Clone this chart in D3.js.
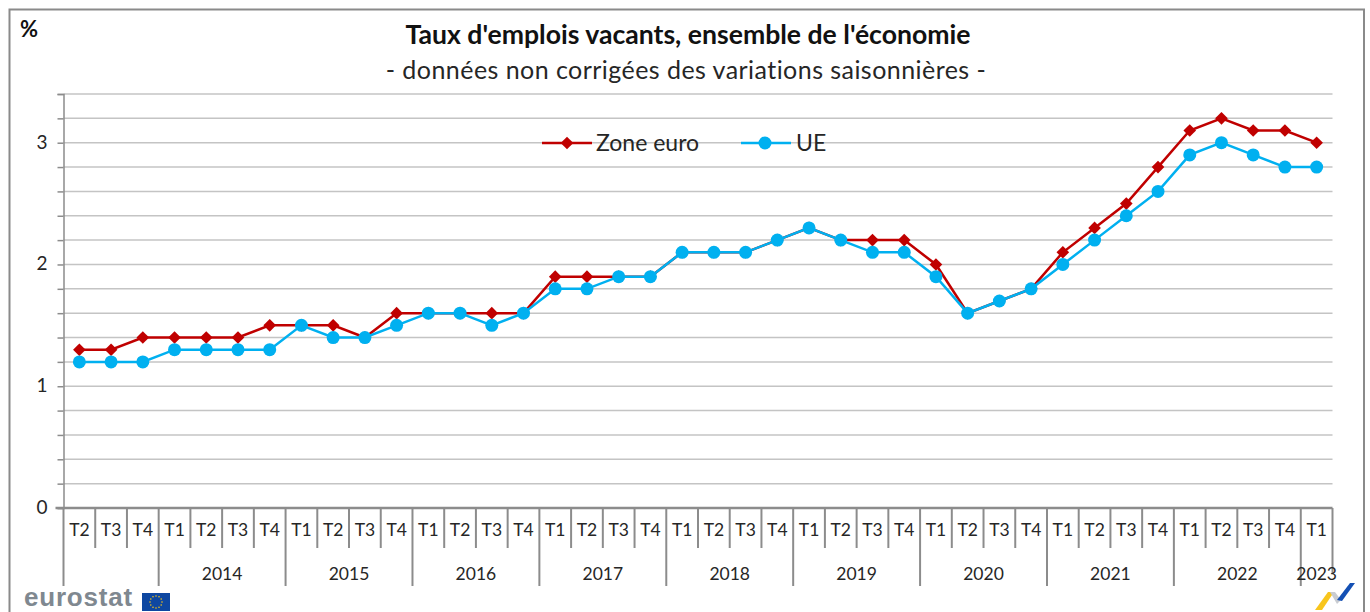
<!DOCTYPE html>
<html>
<head>
<meta charset="utf-8">
<script src="https://cdn.jsdelivr.net/npm/d3@7"></script>
<style>
  html, body { margin: 0; padding: 0; background: #fff; overflow: hidden; }
  text { font-family: Lato, "Open Sans", sans-serif; fill: #262626; }
</style>
</head>
<body>
<div id="chart"></div>
<script>
const quarters = ['T2','T3','T4',
    'T1','T2','T3','T4', 'T1','T2','T3','T4', 'T1','T2','T3','T4', 'T1','T2','T3','T4', 'T1','T2','T3','T4',
    'T1','T2','T3','T4', 'T1','T2','T3','T4', 'T1','T2','T3','T4', 'T1','T2','T3','T4', 'T1'];
const years = [['', 3], ['2014', 4], ['2015', 4], ['2016', 4], ['2017', 4], ['2018', 4], ['2019', 4], ['2020', 4], ['2021', 4], ['2022', 4], ['2023', 1]];
const zoneEuro = [1.3,1.3,1.4, 1.4,1.4,1.4,1.5, 1.5,1.5,1.4,1.6, 1.6,1.6,1.6,1.6, 1.9,1.9,1.9,1.9,
    2.1,2.1,2.1,2.2, 2.3,2.2,2.2,2.2, 2.0,1.6,1.7,1.8, 2.1,2.3,2.5,2.8, 3.1,3.2,3.1,3.1, 3.0];
const ue = [1.2,1.2,1.2, 1.3,1.3,1.3,1.3, 1.5,1.4,1.4,1.5, 1.6,1.6,1.5,1.6, 1.8,1.8,1.9,1.9,
    2.1,2.1,2.1,2.2, 2.3,2.2,2.1,2.1, 1.9,1.6,1.7,1.8, 2.0,2.2,2.4,2.6, 2.9,3.0,2.9,2.8, 2.8];
const yTicks = [0, 1, 2, 3];
const yGrid = d3.range(1, 18).map(d => d / 5);

const W = 1370, H = 612;
const plotLeft = 63.5, plotRight = 1332.5, plotTop = 94, plotBottom = 508;
const axisGrey = '#8c8c8c', red = '#c00000', blue = '#00b0f0';

const svg = d3.select('#chart').append('svg').attr('width', W).attr('height', H).style('display', 'block');

// outer frame of the screenshot
svg.append('path').attr('d', `M9.5,${H}V9.5H1364V${H}`).attr('fill', 'none').attr('stroke', '#8a8a8a').attr('stroke-width', 2);

const x = d3.scaleBand().domain(d3.range(quarters.length)).range([plotLeft, plotRight]);
const y = d3.scaleLinear().domain([0, 3.4]).range([plotBottom, plotTop]);

svg.append('text').attr('x', 688).attr('y', 44).attr('text-anchor', 'middle')
    .style('font-size', '26.6px').style('font-weight', 700).style('fill', '#111').text("Taux d'emplois vacants, ensemble de l'économie");
svg.append('text').attr('x', 686).attr('y', 79).attr('text-anchor', 'middle')
    .style('font-size', '25px').style('letter-spacing', '0.45px').text('- données non corrigées des variations saisonnières -');
svg.append('text').attr('x', 20).attr('y', 37).style('font-size', '22px').style('font-weight', 700).style('fill', '#111').text('%');

// gridlines + minor ticks
svg.append('g').selectAll('line').data(yGrid).enter().append('line')
    .attr('x1', plotLeft).attr('x2', plotRight).attr('y1', d => y(d)).attr('y2', d => y(d))
    .attr('stroke', '#c4c4c4').attr('stroke-width', 1.5);

const yAxis = svg.append('g').attr('transform', `translate(${plotLeft}, 0)`)
    .call(d3.axisLeft(y).tickValues(yGrid.concat([0])).tickSize(6).tickFormat(d => yTicks.includes(d) ? d : ''));
yAxis.selectAll('path,line').attr('stroke', axisGrey).attr('stroke-width', 1.5);
yAxis.selectAll('text').attr('x', -16).attr('dy', '0.28em').style('font-size', '19px').style('font-family', 'Lato').style('fill', '#262626');

// quarter labels and separators under the baseline
const xAxis = svg.append('g').attr('transform', `translate(0, ${plotBottom})`)
    .call(d3.axisBottom(x).tickFormat(i => quarters[i]).tickSize(0).tickPadding(16));
xAxis.select('.domain').remove();
xAxis.selectAll('text').style('font-size', '17.5px').style('font-family', 'Lato').style('fill', '#262626');

svg.append('line').attr('x1', plotLeft - 8).attr('x2', plotRight).attr('y1', plotBottom).attr('y2', plotBottom)
    .attr('stroke', axisGrey).attr('stroke-width', 2.5);

const edge = i => i < quarters.length ? x(i) : plotRight;
const seps = svg.append('g').attr('stroke', axisGrey).attr('stroke-width', 2);
seps.append('g').selectAll('line').data(d3.range(quarters.length + 1)).enter().append('line')
    .attr('x1', edge).attr('x2', edge)
    .attr('y1', plotBottom).attr('y2', plotBottom + 40);

// year groups
let start = 0;
const groups = years.map(([label, n]) => { const g = {label, start, end: start + n}; start += n; return g; });
seps.append('g').selectAll('line').data(groups).enter().append('line')
    .attr('x1', d => x(d.start)).attr('x2', d => x(d.start)).attr('y1', plotBottom + 40).attr('y2', plotBottom + 78);
seps.append('line').attr('x1', plotRight).attr('x2', plotRight).attr('y1', plotBottom + 40).attr('y2', plotBottom + 66);

svg.append('g').selectAll('text').data(groups.filter(d => d.label)).enter().append('text')
    .attr('x', d => (edge(d.start) + edge(d.end)) / 2).attr('y', 580).attr('text-anchor', 'middle')
    .style('font-size', '17.5px').text(d => d.label);

// series
const line = d3.line().x((d, i) => x(i) + x.bandwidth() / 2).y(d => y(d));
const diamond = d3.symbol().type(d3.symbolSquare).size(80);

svg.append('path').datum(zoneEuro).attr('d', line).attr('fill', 'none').attr('stroke', red).attr('stroke-width', 2.5);
svg.append('g').selectAll('path').data(zoneEuro).enter().append('path').attr('d', diamond)
    .attr('transform', (d, i) => `translate(${x(i) + x.bandwidth() / 2}, ${y(d)}) rotate(45)`).attr('fill', red);

svg.append('path').datum(ue).attr('d', line).attr('fill', 'none').attr('stroke', blue).attr('stroke-width', 2.5);
svg.append('g').selectAll('circle').data(ue).enter().append('circle')
    .attr('cx', (d, i) => x(i) + x.bandwidth() / 2).attr('cy', d => y(d)).attr('r', 6.5).attr('fill', blue);

// legend
const legend = svg.append('g');
legend.append('line').attr('x1', 542).attr('x2', 592).attr('y1', 143).attr('y2', 143).attr('stroke', red).attr('stroke-width', 2.5);
legend.append('path').attr('d', diamond).attr('transform', 'translate(567, 143) rotate(45)').attr('fill', red);
legend.append('text').attr('x', 596).attr('y', 151).style('font-size', '23px').text('Zone euro');
legend.append('line').attr('x1', 741).attr('x2', 791).attr('y1', 143).attr('y2', 143).attr('stroke', blue).attr('stroke-width', 2.5);
legend.append('circle').attr('cx', 765).attr('cy', 143).attr('r', 6.5).attr('fill', blue);
legend.append('text').attr('x', 796).attr('y', 151).style('font-size', '23px').text('UE');

// eurostat logo
svg.append('text').attr('x', 24).attr('y', 606).style('font-family', '"Liberation Sans"').style('font-size', '26px')
    .style('font-weight', 700).style('fill', '#7f8890').style('letter-spacing', '0.8px').text('eurostat');
svg.append('rect').attr('x', 142).attr('y', 593).attr('width', 28).attr('height', 18).attr('fill', '#0e47a1');
svg.append('g').selectAll('circle').data(d3.range(12)).enter().append('circle')
    .attr('cx', i => 156 + 6 * Math.cos(i * Math.PI / 6)).attr('cy', i => 602 + 6 * Math.sin(i * Math.PI / 6))
    .attr('r', 0.8).attr('fill', '#f5c518');

// corner mark
svg.append('path').attr('d', 'M1315,610L1328,592L1334,592L1322,610Z').attr('fill', '#f8c51c');
svg.append('path').attr('d', 'M1330,592L1335,592L1341,600L1337,604Z').attr('fill', '#c9ccd1');
svg.append('path').attr('d', 'M1337,600L1350,583L1355,583L1342,601Z').attr('fill', '#1450b4');
</script>
</body>
</html>
